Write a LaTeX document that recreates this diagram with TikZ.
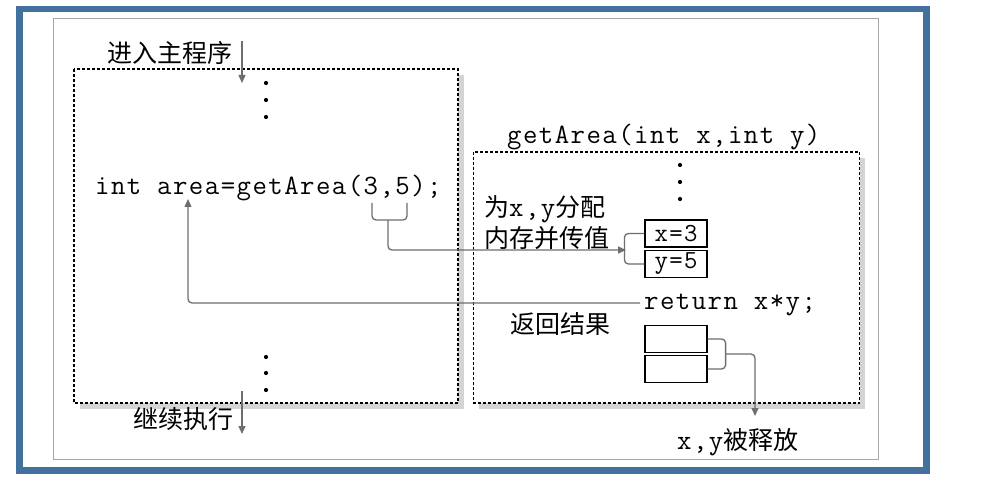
\documentclass[tikz,border=0pt]{standalone}
\usepackage{fontspec}
\newfontfamily\codefont{Latin Modern Mono}[LetterSpace=5.2]
\newfontfamily\cjk{Noto Sans CJK SC}
\usetikzlibrary{arrows.meta}
\definecolor{frameblue}{HTML}{43719E}
\definecolor{conn}{HTML}{6E6E6E}
\definecolor{shade}{HTML}{D4D4D4}
\newcommand{\mycode}{\fontsize{28}{30}\selectfont\codefont}
\tikzset{
  mono/.style={font=\mycode, inner sep=0pt, anchor=base west},
  cjktext/.style={font=\fontsize{25}{27}\selectfont\cjk, inner sep=0pt, anchor=base west},
  dotbox/.style={draw=black, line width=1.8pt, dash pattern=on 3pt off 2pt, fill=white},
  shadowbox/.style={fill=shade, draw=none},
  cell/.style={draw=black, line width=1.2pt, minimum width=62pt, minimum height=27pt, inner sep=0pt,
     font=\fontsize{26}{28}\selectfont\codefont},
  link/.style={draw=conn, line width=1.3pt, rounded corners=4pt},
  linkarrow/.style={link, -{Triangle[length=8pt,width=7pt]}},
  dot/.style={fill=black, draw=none}
}
\begin{document}
\begin{tikzpicture}[x=1pt, y=-1pt]
\useasboundingbox (0,0) rectangle (990,481);
% frames
\draw[frameblue, line width=6.5pt] (19.5,9.25) rectangle (926.5,470.25);
\draw[black!35, line width=1pt] (53,19) rectangle (878,459);
% dotted boxes with shadows
\fill[shadowbox] (80,75) rectangle (464,409);
\draw[dotbox] (74,69) rectangle (458,403);
\fill[shadowbox] (479,158) rectangle (865,409);
\draw[dotbox] (473.5,152) rectangle (859.5,403);
% dots
\foreach \yy in {83,100,117} \fill[dot] (266,\yy) circle (2.1pt);
\foreach \yy in {357,373,390} \fill[dot] (266,\yy) circle (2.1pt);
\foreach \yy in {165,182,199} \fill[dot] (680,\yy) circle (2.1pt);
% texts
\node[cjktext] (enter) at (107,63) {进入主程序};
\node[cjktext] (cont) at (133,428) {继续执行};
\node[mono] (code) at (95,194) {int area=getArea(3,5);};
\node[mono] (sig) at (507,144) {getArea(int x,int y)};
\node[cjktext] (alloc1) at (484,216) {为{\mycode x,y}分配};
\node[cjktext] (alloc2) at (484,247) {内存并传值};
\node[mono] (ret) at (644,309) {return x*y;};
\node[cjktext] (back) at (510,333) {返回结果};
\node[cjktext] (freed) at (677,449) {{\mycode x,y}被释放};
% memory cells
\node[cell] (cx) at (676,233.5) {x=3};
\node[cell] (cy) at (676,264) {y=5};
\node[cell] (fx) at (676,339) {};
\node[cell] (fy) at (676,369) {};
% coordinates
\coordinate (enterTop) at (242,41);
\coordinate (enterTip) at (242,83);
\coordinate (contTop) at (242,391);
\coordinate (contTip) at (242,434);
\coordinate (argL) at (372,203);
\coordinate (argR) at (407,203);
\coordinate (argStem) at (388,220);
\coordinate (argTip) at (626,250);
\coordinate (retStart) at (640,303);
\coordinate (areaTip) at (188,199);
\coordinate (freeStem) at (725,354);
\coordinate (freeTip) at (755,416);
% arrows
\draw[linkarrow] (enterTop) -- (enterTip);
\draw[linkarrow] (contTop) -- (contTip);
\draw[link] (argL) |- (argStem) -| (argR);
\draw[linkarrow] (argStem) |- (argTip);
\draw[link] (cx.west) -- ++(-20,0) |- (cy.west);
\draw[linkarrow] (retStart) -| (areaTip);
\draw[link] (fx.east) -- ++(18,0) |- (fy.east);
\draw[linkarrow] (freeStem) -| (freeTip);
\end{tikzpicture}
\end{document}
